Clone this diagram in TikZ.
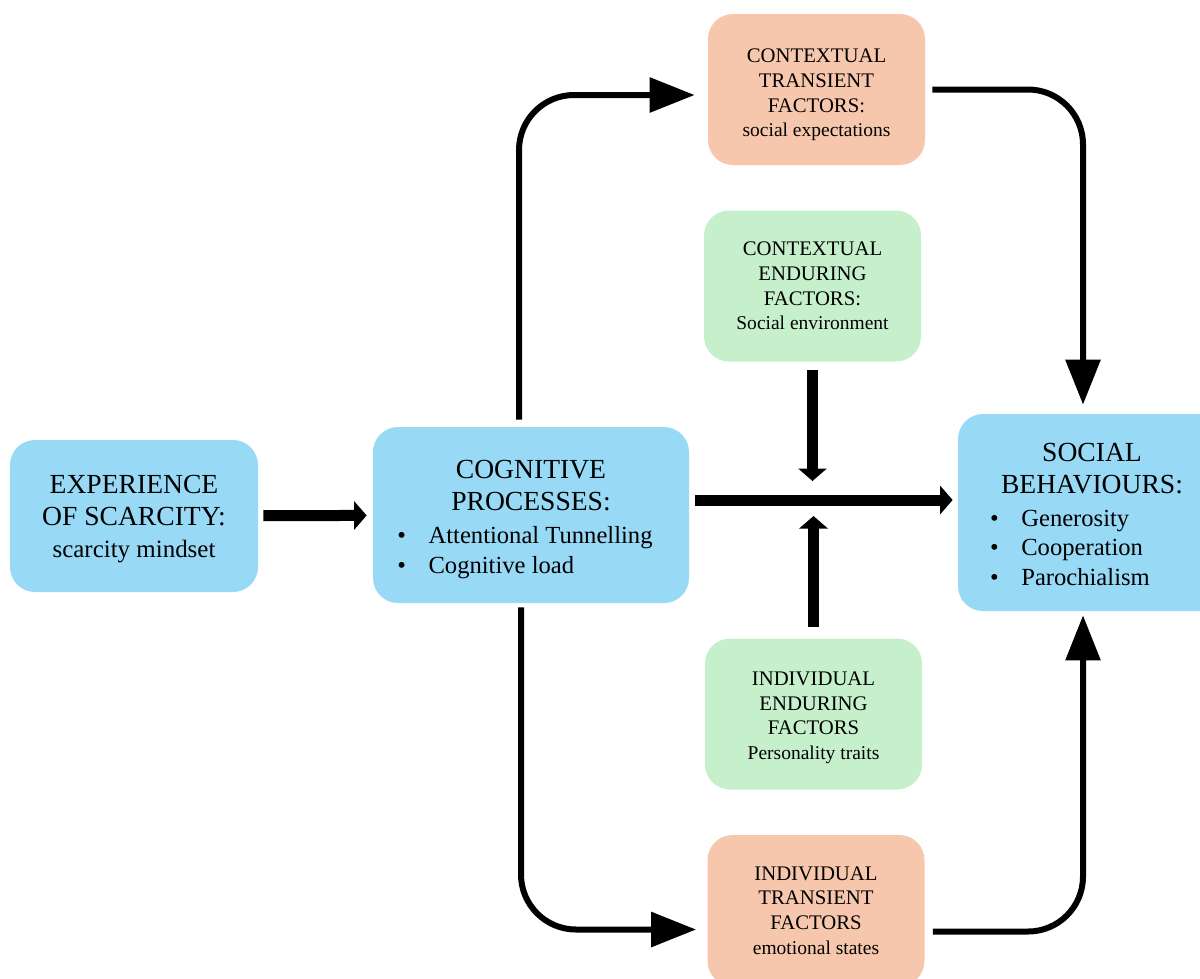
\documentclass[tikz,border=0pt]{standalone}
\usepackage{fontspec}
\setmainfont{Liberation Serif}
\usetikzlibrary{arrows.meta, positioning, calc}
\definecolor{boxblue}{RGB}{152,217,246}
\definecolor{boxpeach}{RGB}{246,199,172}
\definecolor{boxgreen}{RGB}{198,240,204}
\newcommand{\bodytext}{\fontsize{14.2}{18.2}\selectfont}
\newcommand{\smalltext}{\fontsize{11.1}{14}\selectfont}
\newcommand{\bul}[1]{\textbullet\hspace{0.45cm}#1}
\newcommand{\pad}{\rule{0pt}{17pt}}

\begin{document}
\begin{tikzpicture}[
  bluebox/.style={fill=boxblue, rounded corners=0.5cm, align=center, inner sep=0pt, font=\fontsize{15.7}{18.2}\selectfont},
  peachbox/.style={fill=boxpeach, rounded corners=0.5cm, align=center, inner sep=0pt, minimum width=4.34cm, minimum height=3.02cm, font=\fontsize{11.8}{14}\selectfont},
  greenbox/.style={peachbox, fill=boxgreen},
  fatarrow/.style={line width=0.22cm, -{Triangle[length=0.25cm, width=0.56cm]}},
  looparrow/.style={line width=0.12cm, rounded corners=1.1cm, -{Triangle[length=0.9cm, width=0.68cm]}}]
\useasboundingbox (0,0) rectangle (24,-19.56);

% Main boxes
\node[bluebox, minimum width=4.96cm, minimum height=3.04cm] (exp) at (2.68,-10.32) {\rule{0pt}{13.5pt}EXPERIENCE\\OF SCARCITY:\\\bodytext scarcity mindset};
\node[bluebox, minimum width=6.32cm, minimum height=3.52cm] (cog) at (10.62,-10.3) {\pad COGNITIVE\\PROCESSES:\\[1pt]\fontsize{14}{16.6}\selectfont\begin{tabular}[t]{@{}l@{\hspace{0.24cm}}}\bul{Attentional Tunnelling}\\\bul{Cognitive load}\end{tabular}};
\node[bluebox, minimum width=5.36cm, minimum height=3.94cm] (soc) at (21.84,-10.25) {\pad SOCIAL\\BEHAVIOURS:\\[1pt]\fontsize{14}{16.6}\selectfont\begin{tabular}[t]{@{}l@{\hspace{0.88cm}}}\bul{Generosity}\\\bul{Cooperation}\\\bul{Parochialism}\end{tabular}};

% Factors
\node[peachbox] (ct) at (16.33,-1.79) {\rule{0pt}{14pt}CONTEXTUAL\\TRANSIENT\\FACTORS:\\\smalltext social expectations};
\node[greenbox] (ce) at (16.25,-5.72) {CONTEXTUAL\\ENDURING\\FACTORS:\\\smalltext Social environment};
\node[greenbox] (ie) at (16.27,-14.28) {\rule{0pt}{12pt}INDIVIDUAL\\ENDURING\\FACTORS\\\smalltext Personality traits};
\node[peachbox] (it) at (16.32,-18.21) {INDIVIDUAL\\TRANSIENT\\FACTORS\\\smalltext emotional states};

% Straight arrows
\coordinate (hub) at ($(ce.south)!0.5!(ie.north)$);
\draw[fatarrow, shorten <=0.1cm, shorten >=0.12cm] (exp) -- (cog);
\draw[fatarrow, shorten <=0.12cm, shorten >=0.1cm] (cog.east |- hub) -- (soc.west |- hub);
\draw[fatarrow, shorten <=0.16cm, shorten >=0.38cm] (ce.south) -- (ce.south |- hub);
\draw[fatarrow, shorten <=0.22cm, shorten >=0.32cm] (ie.north) -- (ie.north |- hub);

% Round paths
\draw[looparrow, shorten <=0.14cm, shorten >=0.26cm] ([xshift=-0.24cm]cog.north) |- ([yshift=-0.11cm]ct.west);
\draw[looparrow, shorten <=0.14cm, shorten >=0.18cm] (ct.east) -| ([xshift=-0.18cm]soc.north);
\draw[looparrow, shorten <=0.08cm, shorten >=0.22cm] ([xshift=-0.2cm]cog.south) |- ([yshift=-0.38cm]it.west);
\draw[looparrow, shorten <=0.16cm, shorten >=0.08cm] ([yshift=-0.42cm]it.east) -| ([xshift=-0.18cm]soc.south);
\end{tikzpicture}
\end{document}
